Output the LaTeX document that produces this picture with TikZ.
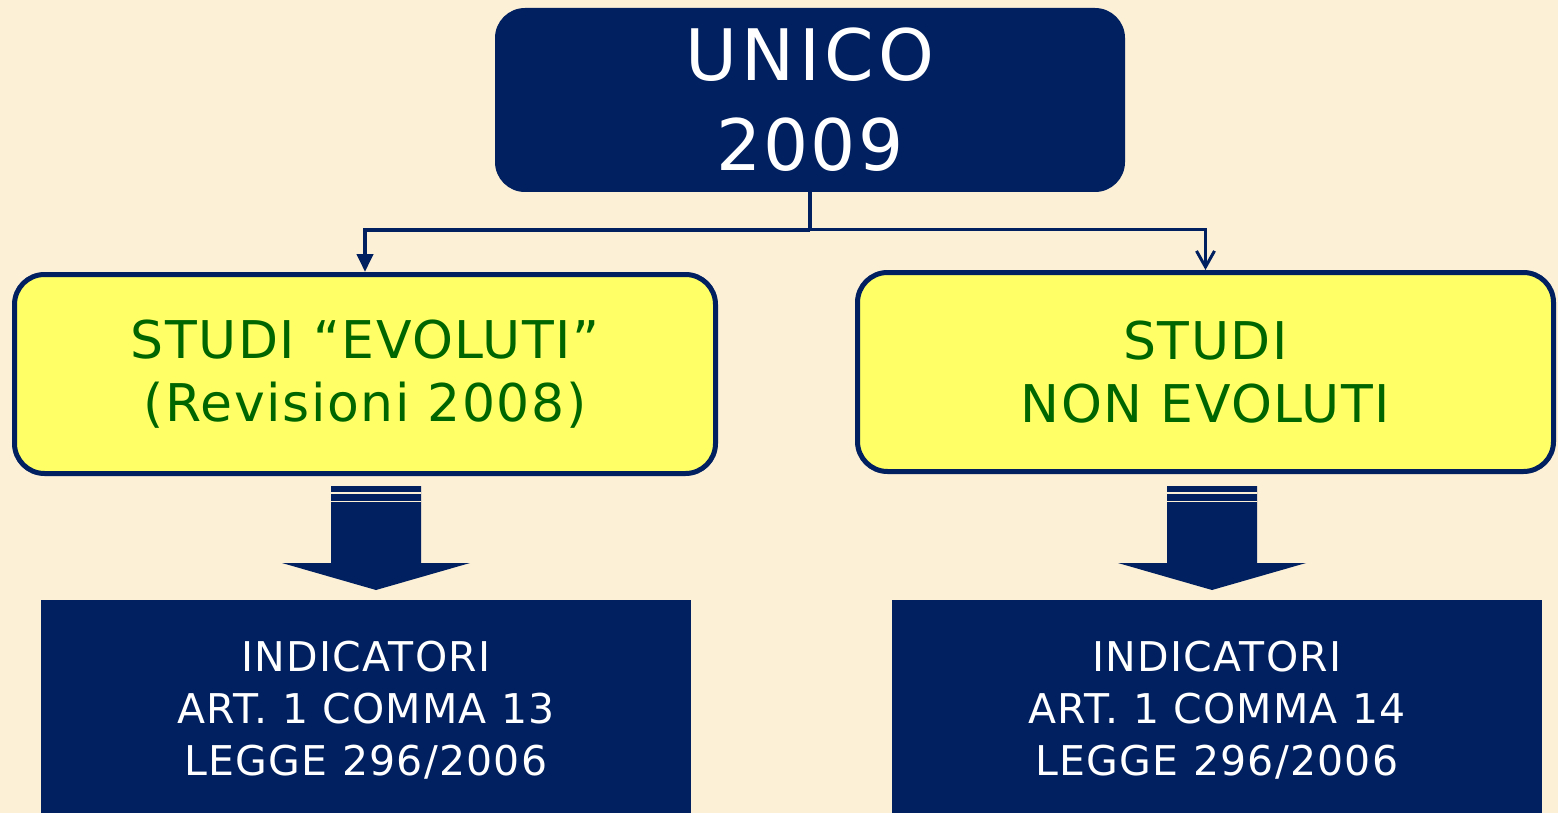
\documentclass[tikz,border=0pt]{standalone}
\usepackage{fontspec}
\setmainfont{DejaVu Sans}[LetterSpace=3]
\newfontfamily\widefont{DejaVu Sans}[LetterSpace=6]
\usepackage{xcolor}
\usepackage{tikz}
\usetikzlibrary{shapes,arrows.meta,positioning}

\definecolor{navy}{RGB}{0,32,96}
\definecolor{cream}{RGB}{252,240,214}
\definecolor{lemon}{RGB}{255,255,102}
\definecolor{leaf}{RGB}{0,102,0}

\begin{document}
\begin{tikzpicture}[x=1pt, y=-1pt,
    root/.style={rectangle, rounded corners=30pt, fill=navy, text=white, minimum width=630pt, minimum height=184pt, align=center, font=\fontsize{71}{90}\selectfont},
    study/.style={rectangle, rounded corners=30pt, draw=navy, line width=5pt, fill=lemon, text=leaf, minimum height=199pt, align=center, font=\fontsize{52}{63}\selectfont},
    result/.style={rectangle, fill=navy, text=white, minimum width=650pt, minimum height=220pt, align=center, font=\fontsize{41}{52}\selectfont},
    link/.style={draw=navy, line width=4pt},
    fat/.style={fill=navy}
]
    % Sfondo
    \fill[cream] (0,0) rectangle (1558,813);
    \useasboundingbox (0,0) rectangle (1558,813);

    % Radice
    \node[root] (unico) at (810,100) {{\widefont UNICO}\\2009};

    % Due famiglie di studi
    \node[study, minimum width=701pt] (evo) at (365,374) {STUDI “EVOLUTI”\\(Revisioni 2008)};
    \node[study, minimum width=696pt] (nonevo) at (1205.5,372) {STUDI\\NON EVOLUTI};

    % Indicatori
    \node[result] (ind13) at (366,710) {INDICATORI\\ART. 1 COMMA 13\\LEGGE 296/2006};
    \node[result] (ind14) at (1217,710) {INDICATORI\\ART. 1 COMMA 14\\LEGGE 296/2006};

    % Diramazione
    \coordinate (split) at (810,230);
    \draw[link] (unico.south) -- (split);
    \draw[link, -{Triangle[length=18pt, width=16pt]}] (split) -| (evo.north);
    \draw[link, line width=3pt, -{Straight Barb[length=16pt, width=18pt, line width=3pt]}] (split) -| (nonevo.north);

    % Frecce grosse
    \foreach \cx in {376,1212} {
        \fill[fat] (\cx-45,486) -- (\cx+45,486) -- (\cx+45,563) -- (\cx+94,563)
            -- (\cx,590) -- (\cx-94,563) -- (\cx-45,563) -- cycle;
        \fill[cream] (\cx-45,492) rectangle (\cx+45,493.5);
        \fill[cream] (\cx-45,500.5) rectangle (\cx+45,502);
    }
\end{tikzpicture}
\end{document}
